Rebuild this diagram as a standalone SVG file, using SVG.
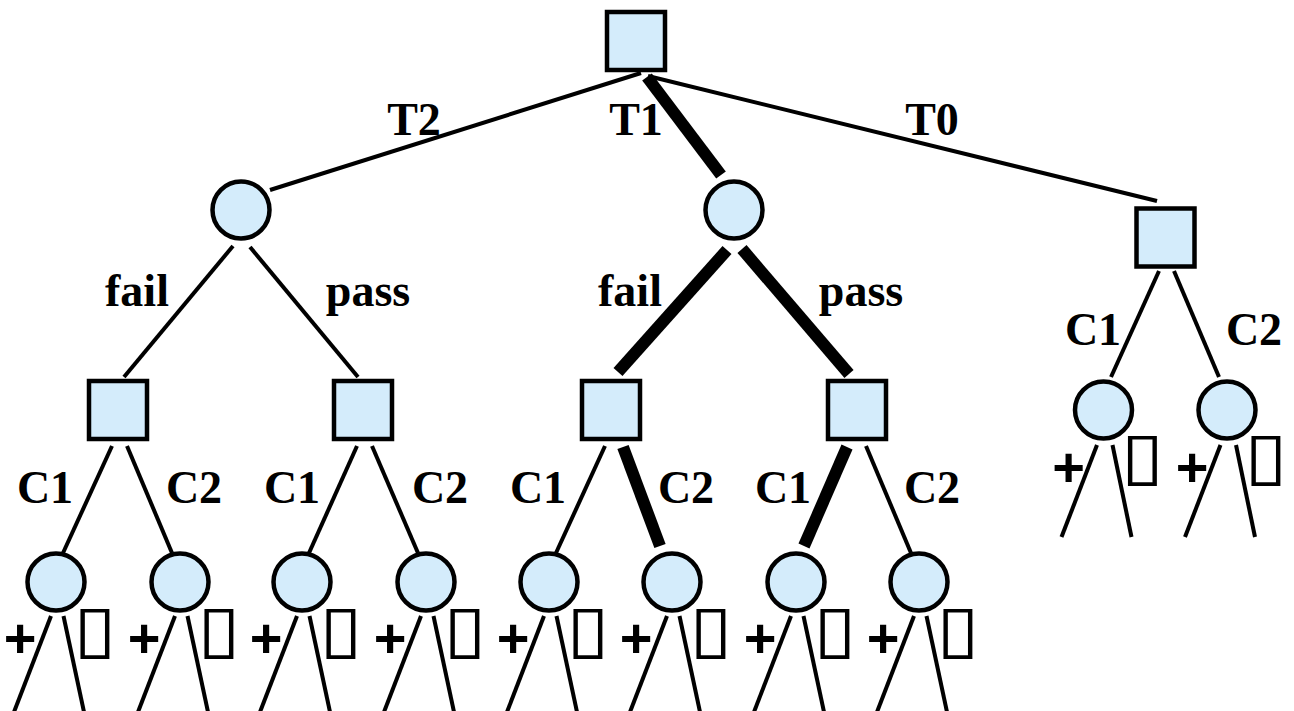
<svg xmlns="http://www.w3.org/2000/svg" width="1294" height="711" viewBox="0 0 1294 711">
<style>
.sq{fill:#D4ECFB;stroke:#000;stroke-width:4.5}
.ci{fill:#D4ECFB;stroke:#000;stroke-width:4.5}
.e{stroke:#000;stroke-width:4;fill:none}
.t{stroke:#000;stroke-width:12;fill:none}
.m{text-anchor:middle}
.lbl{font-family:'Liberation Serif','DejaVu Serif','Noto Serif',serif;font-weight:bold;font-size:46px;fill:#000}
.pl{font-family:'Liberation Sans',Arial,sans-serif;font-weight:bold;font-size:56px;fill:#000;text-anchor:middle}
.box{font-family:'DejaVu Sans',sans-serif;font-weight:normal;font-size:66px;fill:#000}
</style>
<rect width="1294" height="711" fill="#fff"/>
<g id="connectors">
<line class="e" x1="270" y1="190" x2="641" y2="73"/>
<line class="t" x1="647" y1="77" x2="721" y2="175"/>
<line class="e" x1="648" y1="76" x2="1157" y2="201"/>
<line class="e" x1="233" y1="246" x2="124" y2="377"/>
<line class="e" x1="250" y1="247" x2="358" y2="377"/>
<line class="t" x1="727" y1="250" x2="618" y2="372"/>
<line class="t" x1="742" y1="249" x2="849" y2="374"/>
<line class="e" x1="1159" y1="271" x2="1111" y2="377"/>
<line class="e" x1="1174" y1="271" x2="1219" y2="377"/>
<line class="e" x1="112" y1="446" x2="63" y2="553"/>
<line class="e" x1="127" y1="446" x2="172" y2="553"/>
<line class="e" x1="357" y1="446" x2="309" y2="553"/>
<line class="e" x1="372" y1="446" x2="418" y2="553"/>
<line class="e" x1="605" y1="446" x2="556" y2="553"/>
<line class="t" x1="623" y1="447" x2="660" y2="546"/>
<line class="t" x1="847" y1="447" x2="804" y2="546"/>
<line class="e" x1="866" y1="446" x2="911" y2="553"/>
<line class="e" x1="1097" y1="445" x2="1061.5" y2="537"/>
<line class="e" x1="1112.5" y1="445" x2="1131.5" y2="537"/>
<line class="e" x1="1220.5" y1="445" x2="1185" y2="537"/>
<line class="e" x1="1236" y1="445" x2="1255" y2="537"/>
<line class="e" x1="51" y1="616" x2="14" y2="712"/>
<line class="e" x1="63.5" y1="616" x2="84" y2="712"/>
<line class="e" x1="175" y1="616" x2="138" y2="712"/>
<line class="e" x1="187.5" y1="616" x2="208" y2="712"/>
<line class="e" x1="297" y1="616" x2="260" y2="712"/>
<line class="e" x1="309.5" y1="616" x2="330" y2="712"/>
<line class="e" x1="421" y1="616" x2="384" y2="712"/>
<line class="e" x1="433.5" y1="616" x2="454" y2="712"/>
<line class="e" x1="544" y1="616" x2="507" y2="712"/>
<line class="e" x1="556.5" y1="616" x2="577" y2="712"/>
<line class="e" x1="667" y1="616" x2="630" y2="712"/>
<line class="e" x1="679.5" y1="616" x2="700" y2="712"/>
<line class="e" x1="791" y1="616" x2="754" y2="712"/>
<line class="e" x1="803.5" y1="616" x2="824" y2="712"/>
<line class="e" x1="914" y1="616" x2="877" y2="712"/>
<line class="e" x1="926.5" y1="616" x2="947" y2="712"/>
</g>
<g id="labels">
<text class="lbl m" x="414" y="135">T2</text>
<text class="lbl m" x="636" y="135">T1</text>
<text class="lbl m" x="932" y="135">T0</text>
<text class="lbl m" x="137" y="306">fail</text>
<text class="lbl m" x="368" y="306">pass</text>
<text class="lbl m" x="630" y="306">fail</text>
<text class="lbl m" x="861" y="306">pass</text>
<text class="lbl m" x="45" y="503">C1</text>
<text class="lbl m" x="194" y="503">C2</text>
<text class="lbl m" x="292" y="503">C1</text>
<text class="lbl m" x="440" y="503">C2</text>
<text class="lbl m" x="538" y="503">C1</text>
<text class="lbl m" x="686" y="503">C2</text>
<text class="lbl m" x="783" y="503">C1</text>
<text class="lbl m" x="932" y="503">C2</text>
<text class="lbl m" x="1093" y="345">C1</text>
<text class="lbl m" x="1254" y="345">C2</text>
</g>
<g id="nodes">
<g id="root"><rect class="sq" x="607" y="12" width="58" height="58"/></g>
<g id="n-t2"><circle class="ci" cx="241" cy="210" r="28.5"/></g>
<g id="n-t1"><circle class="ci" cx="734" cy="210" r="28.5"/></g>
<g id="n-t0"><rect class="sq" x="1136.5" y="208.5" width="58" height="58"/></g>
<g id="n-t2-fail"><rect class="sq" x="89" y="381" width="58" height="58"/></g>
<g id="n-t2-pass"><rect class="sq" x="334" y="381" width="58" height="58"/></g>
<g id="n-t1-fail"><rect class="sq" x="582" y="381" width="58" height="58"/></g>
<g id="n-t1-pass"><rect class="sq" x="828" y="381" width="58" height="58"/></g>
<g id="n-t0-c1"><circle class="ci" cx="1103.5" cy="410" r="28.5"/><text class="pl" x="1068.5" y="486">+</text><text class="box" transform="translate(1120.8,478) scale(1.2,1)">▯</text></g>
<g id="n-t0-c2"><circle class="ci" cx="1227" cy="410" r="28.5"/><text class="pl" x="1192" y="486">+</text><text class="box" transform="translate(1244.3,478) scale(1.2,1)">▯</text></g>
<g id="leaf1"><circle class="ci" cx="56" cy="582" r="28.5"/><text class="pl" x="20" y="656.5">+</text><text class="box" transform="translate(73.3,651) scale(1.2,1)">▯</text></g>
<g id="leaf2"><circle class="ci" cx="180" cy="582" r="28.5"/><text class="pl" x="144" y="656.5">+</text><text class="box" transform="translate(197.3,651) scale(1.2,1)">▯</text></g>
<g id="leaf3"><circle class="ci" cx="302" cy="582" r="28.5"/><text class="pl" x="266" y="656.5">+</text><text class="box" transform="translate(319.3,651) scale(1.2,1)">▯</text></g>
<g id="leaf4"><circle class="ci" cx="426" cy="582" r="28.5"/><text class="pl" x="390" y="656.5">+</text><text class="box" transform="translate(443.3,651) scale(1.2,1)">▯</text></g>
<g id="leaf5"><circle class="ci" cx="549" cy="582" r="28.5"/><text class="pl" x="513" y="656.5">+</text><text class="box" transform="translate(566.3,651) scale(1.2,1)">▯</text></g>
<g id="leaf6"><circle class="ci" cx="672" cy="582" r="28.5"/><text class="pl" x="636" y="656.5">+</text><text class="box" transform="translate(689.3,651) scale(1.2,1)">▯</text></g>
<g id="leaf7"><circle class="ci" cx="796" cy="582" r="28.5"/><text class="pl" x="760" y="656.5">+</text><text class="box" transform="translate(813.3,651) scale(1.2,1)">▯</text></g>
<g id="leaf8"><circle class="ci" cx="919" cy="582" r="28.5"/><text class="pl" x="883" y="656.5">+</text><text class="box" transform="translate(936.3,651) scale(1.2,1)">▯</text></g>
</g>
</svg>
